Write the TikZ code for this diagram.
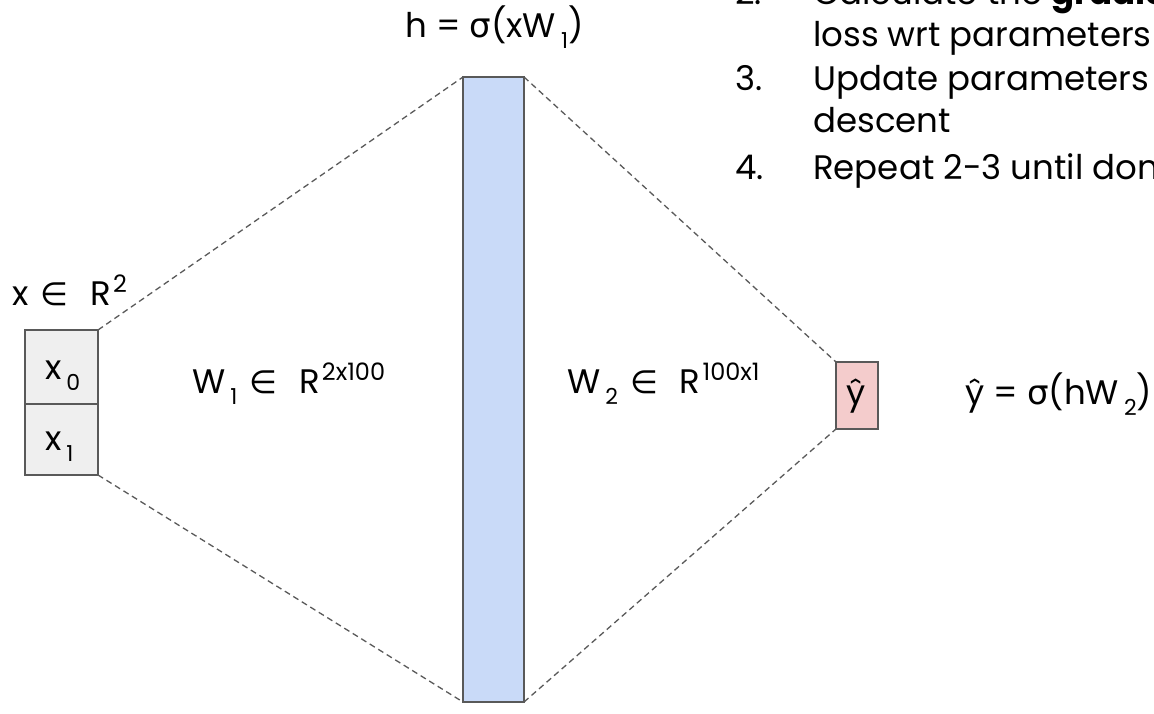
\documentclass[tikz,border=0pt]{standalone}
\usepackage{fontspec}
\setmainfont{Poppins}
\newfontfamily\symf{DejaVu Sans}
\definecolor{boxline}{HTML}{595959}
\definecolor{dashline}{HTML}{5A5A5A}
\definecolor{xfill}{HTML}{EFEFEF}
\definecolor{hfill}{HTML}{C9DAF8}
\definecolor{yfill}{HTML}{F4CCCC}
\newcommand{\sbs}[1]{\hspace{5pt}\raisebox{-11pt}{\fontsize{22}{22}\selectfont #1}}
\newcommand{\sps}[1]{\hspace{2pt}\raisebox{13pt}{\fontsize{24}{24}\selectfont #1}}
\newcommand{\inn}{\hspace{12pt}{\fontsize{32}{32}\symf ∈}\hspace{22pt}}
\newcommand{\sig}{{\symf σ}}
\begin{document}
\begin{tikzpicture}[x=1pt,y=-1pt,
  cell/.style={draw=boxline,line width=1.5pt,inner sep=0pt,outer sep=0pt},
  link/.style={draw=dashline,line width=1.3pt,dash pattern=on 6pt off 4pt},
  lbl/.style={inner sep=0pt,anchor=base west,font=\fontsize{34}{34}\selectfont},
  item/.style={inner sep=0pt,anchor=base west,font=\fontsize{34}{34}\selectfont}]
\useasboundingbox (0,0) rectangle (1154,714);
\clip (0,0) rectangle (1154,714);
\fill[white] (0,0) rectangle (1154,714);
% input boxes
\node[cell,fill=xfill,minimum width=73pt,minimum height=74pt,anchor=north west] (x0) at (25,330) {};
\node[cell,fill=xfill,minimum width=73pt,minimum height=71pt,anchor=north west] (x1) at (25,404) {};
\node[cell,fill=hfill,minimum width=61pt,minimum height=625pt,anchor=north west] (h) at (463,77) {};
\node[cell,fill=yfill,minimum width=42pt,minimum height=67pt,anchor=north west] (y) at (836,362) {};
% connectors
\draw[link] (x0.north east) -- (h.north west);
\draw[link] (x1.south east) -- (h.south west);
\draw[link] (h.north east) -- (y.north west);
\draw[link] (h.south east) -- (y.south west);
% labels in boxes
\node[lbl] (t0) at (45,379) {x\sbs{0}};
\node[lbl] (t1) at (45,450) {x\sbs{1}};
\node[lbl] (ty) at (846,404) {ŷ};
% labels
\node[lbl] (lx) at (12,305) {x\inn R\sps{2}};
\node[lbl] (lw1) at (192,393) {W\sbs{1}\inn R\sps{2x100}};
\node[lbl] (lw2) at (567,393) {W\sbs{2}\inn R\sps{100x1}};
\node[lbl] (lh) at (405,38) {h = \sig(xW\sbs{1})};
\node[lbl] (ly) at (965,404) {ŷ = \sig(hW\sbs{2})};
% list
\node[item] (n2) at (735,5) {2.};
\node[item] (i2a) at (813,5) {Calculate the \textbf{gradient}};
\node[item] (i2b) at (813,47) {loss wrt parameters};
\node[item] (n3) at (735,91) {3.};
\node[item] (i3a) at (813,91) {Update parameters};
\node[item] (i3b) at (813,133) {descent};
\node[item] (n4) at (735,180) {4.};
\node[item] (i4) at (813,180) {Repeat 2-3 until done};
\end{tikzpicture}
\end{document}
